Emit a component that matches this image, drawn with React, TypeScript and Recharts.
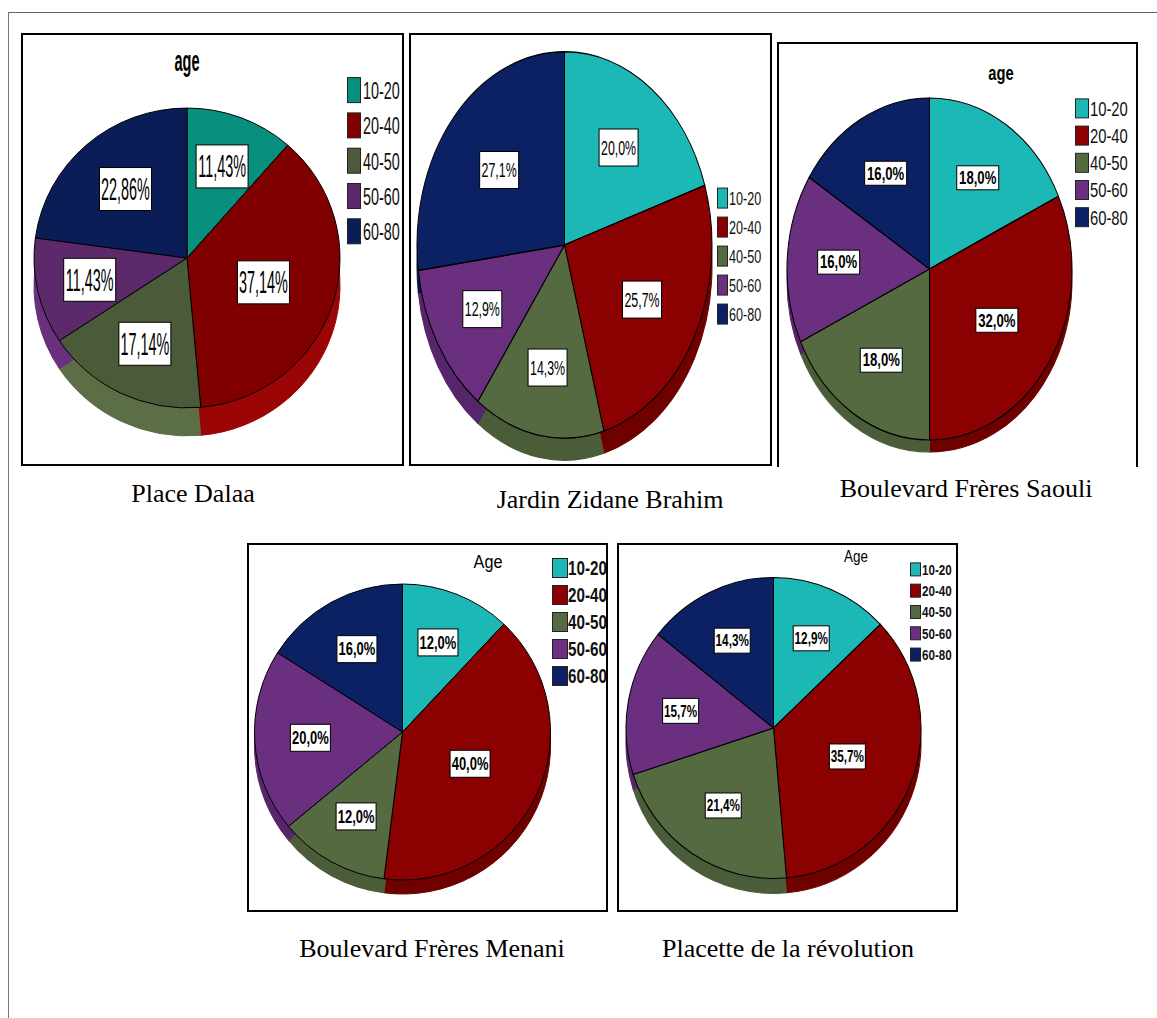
import React from "react";
import { PieChart, Pie, Cell, Legend } from "recharts";

// age groups and the share (%) of each group per site
const AGE_GROUPS = ["10-20", "20-40", "40-50", "50-60", "60-80"];
const placeDalaa = [11.43, 37.14, 17.14, 11.43, 22.86];
const jardinZidane = [20.0, 25.7, 14.3, 12.9, 27.1];
const bdSaouli = [18.0, 32.0, 18.0, 16.0, 16.0];
const bdMenani = [12.0, 40.0, 12.0, 20.0, 16.0];
const placetteRevolution = [12.9, 35.7, 21.4, 15.7, 14.3];

const COLORS = ["#1cb8b6", "#8b0000", "#556a41", "#6b2f7f", "#0b2163"];
const RIM = ["#169e9c", "#6e0000", "#4a5c38", "#57256a", "#08184c"];
const COLORS_DALAA = ["#07907d", "#800000", "#4b5a38", "#5c2a6b", "#0a1d56"];
const RIM_DALAA = ["#067a6a", "#9b0505", "#5b6e45", "#6a3080", "#0d2366"];

const RAD = Math.PI / 180;
const SANS = "'Liberation Sans', Arial, sans-serif";
const SERIF = "'Liberation Serif', 'Times New Roman', serif";

const PANELS = [
  {
    values: placeDalaa, decimals: 2, colors: COLORS_DALAA, rim: RIM_DALAA,
    box: { x: 21, y: 33, w: 383, h: 433 }, sy: 0.98, cx: 187, cy: 258, r: 153, depth: 28,
    label: { w: 52, h: 43, size: 32, kx: 0.45, bold: false },
    legend: { x: 347, y: 77, rw: 13, rh: 25, pitch: 35.3, tx: 16, size: 24, kx: 0.6, bold: false },
    title: { text: "age", x: 187, base: 72, size: 29, kx: 0.5, bold: true },
    caption: { text: "Place Dalaa", x: 193, base: 503 },
  },
  {
    values: jardinZidane, decimals: 1, colors: COLORS, rim: RIM,
    box: { x: 409, y: 33, w: 363, h: 433 }, sy: 1.31, cx: 564.5, cy: 245, r: 147.5, depth: 22,
    label: { w: 39, h: 37, size: 21, kx: 0.59, bold: false },
    legend: { x: 717, y: 187, rw: 10, rh: 20, pitch: 29, tx: 12, size: 18, kx: 0.7, bold: false },
    title: null,
    caption: { text: "Jardin Zidane Brahim", x: 610, base: 509 },
  },
  {
    values: bdSaouli, decimals: 1, colors: COLORS, rim: RIM, openBottom: true,
    box: { x: 777, y: 42, w: 361, h: 425 }, sy: 1.2, cx: 929.5, cy: 269, r: 142.5, depth: 12,
    label: { w: 42, h: 24, size: 18, kx: 0.73, bold: true },
    legend: { x: 1075, y: 98, rw: 13, rh: 19, pitch: 27.2, tx: 15, size: 20, kx: 0.74, bold: false },
    title: { text: "age", x: 1001, base: 80, size: 21, kx: 0.7, bold: true },
    caption: { text: "Boulevard Frères Saouli", x: 966, base: 498 },
  },
  {
    values: bdMenani, decimals: 1, colors: COLORS, rim: RIM,
    box: { x: 247, y: 543, w: 361, h: 369 }, sy: 1.0, cx: 402.5, cy: 732, r: 148, depth: 14,
    label: { w: 40, h: 27, size: 18, kx: 0.72, bold: true },
    legend: { x: 552, y: 558, rw: 15, rh: 19, pitch: 27, tx: 16, size: 20, kx: 0.76, bold: true },
    title: { text: "Age", x: 488, base: 568, size: 18, kx: 0.9, bold: false },
    caption: { text: "Boulevard Frères Menani", x: 432, base: 958 },
  },
  {
    values: placetteRevolution, decimals: 1, colors: COLORS, rim: RIM,
    box: { x: 617, y: 543, w: 341, h: 369 }, sy: 1.02, cx: 773.5, cy: 728, r: 147.5, depth: 15,
    label: { w: 36, h: 25, size: 17, kx: 0.69, bold: true },
    legend: { x: 910, y: 562, rw: 10, rh: 13, pitch: 21.3, tx: 12, size: 14, kx: 0.83, bold: true },
    title: { text: "Age", x: 856, base: 563, size: 16, kx: 0.84, bold: false },
    caption: { text: "Placette de la révolution", x: 788, base: 958 },
  },
];

const fmtPct = (v: number, d: number) => `${v.toFixed(d).replace(".", ",")}%`;

function AgePie({ cfg }: { cfg: any }) {
  const { box, sy, r, depth, label: lb, legend: lg } = cfg;
  const W = box.w;
  const H = box.h / sy;
  const cx = cfg.cx - box.x;
  const cy = (cfg.cy - box.y) / sy;
  const data = AGE_GROUPS.map((name, i) => ({ name, value: cfg.values[i] }));

  // label sits on the centroid of its sector
  const renderLabel = (p: any) => {
    const theta = p.percent * 2 * Math.PI;
    const rc = (4 * p.outerRadius * Math.sin(theta / 2)) / (3 * theta);
    const a = -p.midAngle * RAD;
    const x = (p.cx ?? cx) + rc * Math.cos(a);
    const y = (p.cy ?? cy) + rc * Math.sin(a);
    return (
      <g transform={`translate(${x},${y}) scale(1,${1 / sy})`}>
        <rect x={-lb.w / 2} y={-lb.h / 2} width={lb.w} height={lb.h} fill="#fff" stroke="#000" strokeWidth={1} />
        <text
          transform={`scale(${lb.kx},1)`}
          x={0}
          y={0}
          textAnchor="middle"
          dominantBaseline="central"
          fontSize={lb.size}
          fontWeight={lb.bold ? 700 : 400}
          fontFamily={SANS}
          fill="#000"
        >
          {fmtPct(p.value, cfg.decimals)}
        </text>
      </g>
    );
  };

  const lw = 70;
  const lh = lg.pitch * 4 + lg.rh + 4;
  const renderLegend = () => (
    <div style={{ width: lw, height: lh, transform: `scaleY(${1 / sy})`, transformOrigin: "top left" }}>
      <svg width={lw} height={lh} style={{ display: "block", overflow: "visible" }}>
        {AGE_GROUPS.map((g, i) => (
          <g key={g}>
            <rect x={0.5} y={i * lg.pitch + 0.5} width={lg.rw} height={lg.rh} fill={cfg.colors[i]} stroke="#222" strokeWidth={1} />
            <text
              transform={`translate(${lg.tx},${i * lg.pitch + lg.rh / 2 + 1}) scale(${lg.kx},1)`}
              dominantBaseline="central"
              fontSize={lg.size}
              fontWeight={lg.bold ? 700 : 400}
              fontFamily={SANS}
              fill="#111"
            >
              {g}
            </text>
          </g>
        ))}
      </svg>
    </div>
  );

  return (
    <div
      style={{
        position: "absolute",
        left: box.x,
        top: box.y,
        width: W,
        height: H,
        transform: `scaleY(${sy})`,
        transformOrigin: "top left",
      }}
    >
      <PieChart width={W} height={H} margin={{ top: 0, right: 0, bottom: 0, left: 0 }}>
        {/* side wall of the pie, shifted down */}
        <Pie
          data={data}
          dataKey="value"
          nameKey="name"
          cx={cx}
          cy={cy + depth / sy}
          outerRadius={r}
          startAngle={90}
          endAngle={-270}
          legendType="none"
          isAnimationActive={false}
          stroke="none"
        >
          {data.map((d, i) => (
            <Cell key={d.name} fill={cfg.rim[i]} stroke={cfg.rim[i]} />
          ))}
        </Pie>
        <Pie
          data={data}
          dataKey="value"
          nameKey="name"
          cx={cx}
          cy={cy}
          outerRadius={r}
          startAngle={90}
          endAngle={-270}
          isAnimationActive={false}
          stroke="#000"
          strokeWidth={1}
          labelLine={false}
          label={renderLabel}
        >
          {data.map((d, i) => (
            <Cell key={d.name} fill={cfg.colors[i]} />
          ))}
        </Pie>
        <Legend
          layout="vertical"
          align="right"
          verticalAlign="top"
          content={renderLegend}
          wrapperStyle={{ left: lg.x - box.x, top: (lg.y - box.y) / sy, right: "auto", width: lw }}
        />
      </PieChart>
    </div>
  );
}

function Panel({ cfg }: { cfg: any }) {
  const { box, title, caption } = cfg;
  return (
    <>
      <AgePie cfg={cfg} />
      <div
        style={{
          position: "absolute",
          left: box.x,
          top: box.y,
          width: box.w,
          height: box.h,
          boxSizing: "border-box",
          border: "2px solid #000",
          borderBottom: cfg.openBottom ? "none" : "2px solid #000",
          pointerEvents: "none",
        }}
      />
      {title && (
        <div
          style={{
            position: "absolute",
            left: title.x - 100,
            width: 200,
            top: title.base - 0.85 * title.size,
            fontFamily: SANS,
            fontSize: title.size,
            lineHeight: 1,
            fontWeight: title.bold ? 700 : 400,
            textAlign: "center",
            color: "#000",
            transform: `scaleX(${title.kx})`,
            transformOrigin: "center",
            whiteSpace: "nowrap",
          }}
        >
          {title.text}
        </div>
      )}
      <div
        style={{
          position: "absolute",
          left: caption.x - 200,
          width: 400,
          top: caption.base - 22,
          fontFamily: SERIF,
          fontSize: 26,
          lineHeight: "26px",
          textAlign: "center",
          color: "#000",
          whiteSpace: "nowrap",
        }}
      >
        {caption.text}
      </div>
    </>
  );
}

export default function App() {
  return (
    <div
      style={{
        position: "absolute",
        left: 0,
        top: 0,
        width: 1157,
        height: 1018,
        overflow: "hidden",
        background: "#fff",
      }}
    >
      {/* outer frame */}
      <div style={{ position: "absolute", left: 8, top: 12, width: 1160, height: 1020, borderTop: "1.5px solid #666", borderLeft: "1.5px solid #777" }} />
      {PANELS.map((p) => (
        <Panel key={p.caption.text} cfg={p} />
      ))}
    </div>
  );
}
